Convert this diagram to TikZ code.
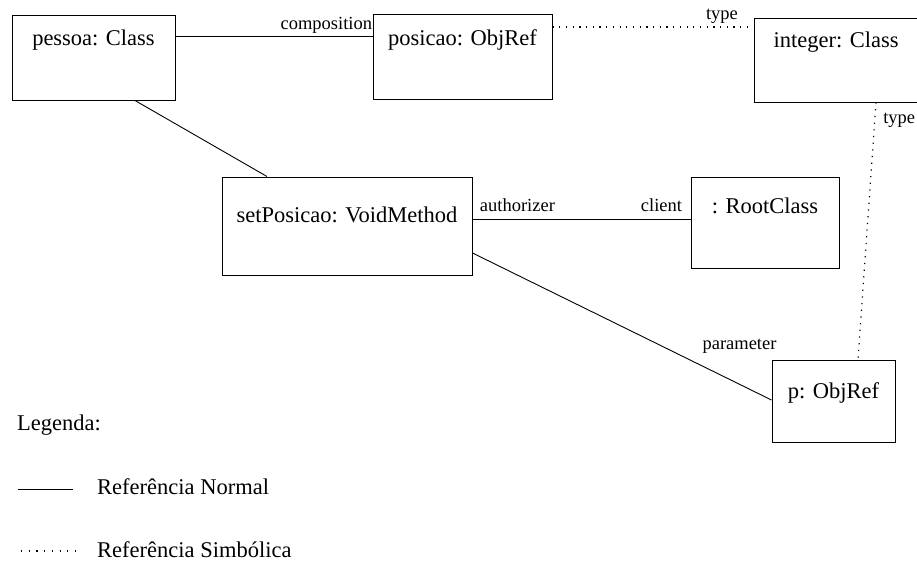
\documentclass[tikz,border=0pt]{standalone}
\usepackage{fontspec}
\setmainfont{Liberation Serif}
\begin{document}
\begin{tikzpicture}[x=1pt,y=-1pt,
  box/.style={draw, line width=1pt, inner sep=0pt, font=\fontsize{22.5}{26}\selectfont, anchor=center},
  lab/.style={font=\fontsize{18.5}{22}\selectfont, inner sep=0pt},
  leg/.style={font=\fontsize{22.5}{26}\selectfont, inner sep=0pt},
  conn/.style={line width=0.9pt},
  symb/.style={line width=1.2pt, dash pattern=on 1.2pt off 5.5pt},
  symbleg/.style={line width=1.2pt, dash pattern=on 1.2pt off 6.5pt}]
\useasboundingbox (0,0) rectangle (917,563);
% boxes
\node[box, minimum width=163pt, text height=30pt, text depth=55pt] (pessoa) at (93.5,57.5) {pessoa: Class};
\node[box, minimum width=179pt, text height=31pt, text depth=54pt] (posicao) at (462.5,56.5) {posicao: ObjRef};
\node[box, minimum width=164pt, text height=29pt, text depth=55pt] (integer) at (836,60) {integer: Class};
\node[box, minimum width=250pt, text height=45pt, text depth=53pt] (setpos) at (347,226) {setPosicao: VoidMethod};
\node[box, minimum width=148pt, text height=36pt, text depth=55pt] (root) at (765,222.5) {: RootClass};
\node[box, minimum width=123pt, text height=38pt, text depth=44pt] (p) at (833.5,401) {p: ObjRef};
% connectors
\draw[conn] ([yshift=21.5pt]pessoa.east) -- ([yshift=20.5pt]posicao.west)
  node[lab, pos=1, anchor=south east, yshift=2pt] (lcomp) {composition};
\draw[symb] ([yshift=29.5pt]posicao.east) -- ([yshift=33pt]integer.west)
  node[lab, pos=1, anchor=south east, xshift=-15pt, yshift=3pt] (ltype1) {type};
\draw[symb] ([xshift=40pt]integer.south) -- ([xshift=24.5pt]p.north)
  node[lab, pos=0.07, anchor=west, xshift=8pt] (ltype2) {type};
\draw[conn] ([xshift=41.5pt]pessoa.south) -- ([xshift=-80pt]setpos.north);
\draw[conn] ([yshift=7pt]setpos.east) -- ([yshift=3.5pt]root.west)
  node[lab, pos=0, anchor=base west, xshift=7pt, yshift=8pt] (lauth) {authorizer}
  node[lab, pos=1, anchor=base east, xshift=-8pt, yshift=8pt] (lclient) {client};
\draw[conn] ([yshift=-27pt]setpos.east) -- ([yshift=1pt]p.west)
  node[lab, pos=0.893, anchor=base, yshift=35pt] (lparam) {parameter};
% legend
\node[leg, anchor=base west] (legenda) at (17,430) {Legenda:};
\coordinate (n1) at (18,489);
\coordinate (n2) at (73,489);
\draw[conn] (n1) -- (n2);
\node[leg, anchor=base west] (lnormal) at (97,494) {Referência Normal};
\coordinate (s1) at (21,551);
\coordinate (s2) at (77,551);
\draw[symbleg] (s1) -- (s2);
\node[leg, anchor=base west] (lsimb) at (97,557) {Referência Simbólica};
\end{tikzpicture}
\end{document}
